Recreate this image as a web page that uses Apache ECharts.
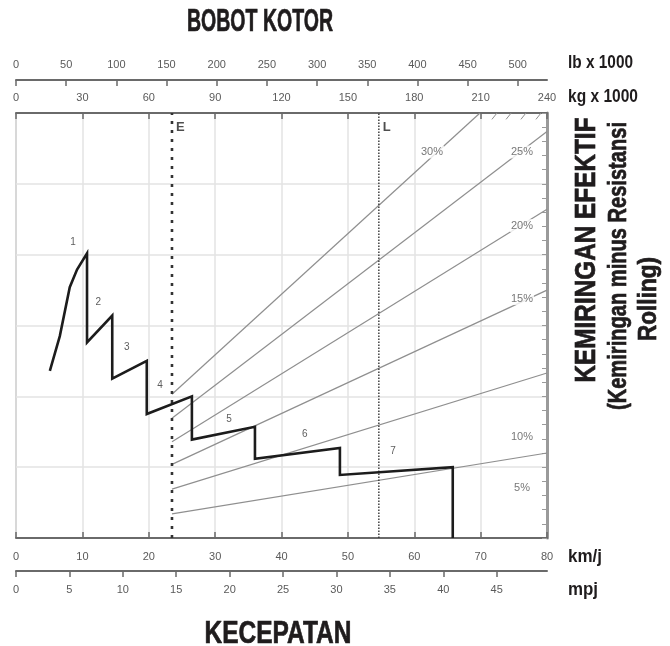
<!DOCTYPE html>
<html>
<head>
<meta charset="utf-8">
<script src="https://cdn.jsdelivr.net/npm/echarts@6/dist/echarts.min.js"></script>
<style>
  html, body { margin: 0; padding: 0; background: #fff; }
  #chart { width: 670px; height: 646px; }
</style>
</head>
<body>
<div id="chart"></div>
<script>
// Tick values of the four scales
const kmhTicks = [0, 10, 20, 30, 40, 50, 60, 70, 80];
const mphTicks = [0, 5, 10, 15, 20, 25, 30, 35, 40, 45];
const kgTicks  = [0, 30, 60, 90, 120, 150, 180, 210, 240];
const lbTicks  = [0, 50, 100, 150, 200, 250, 300, 350, 400, 450, 500];

// Rimpull curve: speed (km/j) against rimpull (kg x 1000)
const gearSpeed = [5.1, 6.6, 8.1, 9.2, 10.7, 10.7, 14.5, 14.5, 19.7, 19.7, 26.5, 26.5, 36.0, 36.0, 48.8, 48.8, 65.8, 65.8];
const gearPull  = [23.6, 28.5, 35.4, 37.9, 40.2, 27.6, 31.4, 22.5, 25.0, 17.5, 20.0, 13.9, 15.7, 11.2, 12.7, 8.9, 10.0, 0];

// Gear numbers and where they sit
const gearNames     = ['1', '2', '3', '4', '5', '6', '7'];
const gearNameSpeed = [8.6, 12.4, 16.7, 21.7, 32.1, 43.5, 56.8];
const gearNamePull  = [41.7, 33.3, 26.9, 21.5, 16.8, 14.7, 12.3];

// Grade lines: gross weight (kg x 1000) against rimpull
const grades           = ['5%', '10%', '15%', '20%', '25%', '30%'];
const emptyWeight      = 70.5;
const loadedWeight     = 164;
const gradeStartPull   = [3.4, 6.9, 10.4, 13.6, 16.9, 20.3];
const gradeEndWeight   = [240, 240, 240, 240, 240, 209.7];
const gradeEndPull     = [12.0, 23.3, 35.0, 46.4, 57.4, 60];
const gradeLabelWeight = [228.7, 228.7, 228.7, 228.7, 228.7, 188.0];
const gradeLabelPull   = [7.1, 14.2, 33.8, 44.1, 54.5, 54.5];

// Short hatch marks along the top edge, right corner
const hatchWeight = [215.1, 221.5, 228.2, 235.0];

const tickFont = "'Liberation Sans Narrow', 'Liberation Sans', Arial, sans-serif";
const boldFont = "'Liberation Sans Narrow', 'Liberation Sans', Arial, sans-serif";
const axisGray = '#6a6a6a';
const gridGray = '#e3e3e3';

// horizontal squeeze factor so a bold heading fills a given width
const measureCtx = document.createElement('canvas').getContext('2d');
function squeeze(text, font, width) {
  measureCtx.font = font;
  return width / measureCtx.measureText(text).width;
}

function heading(text, x, y, size, width, opts) {
  const font = 'bold ' + size + 'px ' + boldFont;
  const o = opts || {};
  return {
    type: 'text',
    x: x, y: y,
    rotation: o.rotation || 0,
    scaleX: squeeze(text, font, width),
    style: {
      text: text,
      font: font,
      fill: '#1f1c1d',
      stroke: '#1f1c1d',
      lineWidth: o.heavy === false ? 0 : 0.7,
      align: o.align || 'center',
      verticalAlign: 'middle'
    }
  };
}

const labelStyle = { fontFamily: tickFont, fontSize: 11, color: '#5a5a5a' };

const chart = echarts.init(document.getElementById('chart'), null, { renderer: 'canvas' });

const series = [];

grades.forEach(function (g, i) {
  series.push({
    type: 'line',
    xAxisIndex: 2,
    yAxisIndex: 0,
    data: [[emptyWeight, gradeStartPull[i]], [gradeEndWeight[i], gradeEndPull[i]]],
    symbol: 'none',
    silent: true,
    lineStyle: { color: '#8f8f8f', width: 1.2 },
    z: 2
  });
});

hatchWeight.forEach(function (w) {
  series.push({
    type: 'line',
    xAxisIndex: 2,
    yAxisIndex: 0,
    data: [[w, 59.1], [w + 2.3, 60]],
    symbol: 'none',
    silent: true,
    lineStyle: { color: '#8f8f8f', width: 1 },
    z: 2
  });
});

// empty (E) and loaded (L) weight markers
series.push({
  type: 'line',
  xAxisIndex: 2,
  yAxisIndex: 0,
  data: [[emptyWeight, 0], [emptyWeight, 60]],
  symbol: 'none',
  silent: true,
  lineStyle: { color: '#333', width: 2.6, type: [3, 6] },
  z: 3
});
series.push({
  type: 'line',
  xAxisIndex: 2,
  yAxisIndex: 0,
  data: [[loadedWeight, 0], [loadedWeight, 60]],
  symbol: 'none',
  silent: true,
  lineStyle: { color: '#333', width: 1.4, type: [1.5, 1.5] },
  z: 3
});
series.push({
  type: 'scatter',
  xAxisIndex: 2,
  yAxisIndex: 0,
  symbolSize: 0,
  silent: true,
  data: [{ name: 'E', value: [emptyWeight, 58] }, { name: 'L', value: [loadedWeight, 58] }],
  label: {
    show: true, position: 'right', distance: 4, formatter: '{b}',
    fontFamily: boldFont, fontWeight: 'bold', fontSize: 13, color: '#222'
  },
  z: 6
});

// grade labels
series.push({
  type: 'scatter',
  xAxisIndex: 2,
  yAxisIndex: 0,
  symbolSize: 0,
  silent: true,
  data: grades.map(function (g, i) {
    return { name: g, value: [gradeLabelWeight[i], gradeLabelPull[i]] };
  }),
  label: {
    show: true, position: 'inside', formatter: '{b}',
    fontFamily: tickFont, fontSize: 11, color: '#555',
    backgroundColor: '#fff', padding: [1, 1]
  },
  z: 4
});

// rimpull curve
series.push({
  type: 'line',
  xAxisIndex: 0,
  yAxisIndex: 0,
  data: gearSpeed.map(function (v, i) { return [v, gearPull[i]]; }),
  symbol: 'none',
  silent: true,
  lineStyle: { color: '#1c1c1c', width: 2.6, join: 'miter' },
  z: 5
});
series.push({
  type: 'scatter',
  xAxisIndex: 0,
  yAxisIndex: 0,
  symbolSize: 0,
  silent: true,
  data: gearNames.map(function (n, i) {
    return { name: n, value: [gearNameSpeed[i], gearNamePull[i]] };
  }),
  label: {
    show: true, position: 'inside', formatter: '{b}',
    fontFamily: tickFont, fontSize: 10, color: '#333'
  },
  z: 6
});

const option = {
  animation: false,
  backgroundColor: '#fff',
  grid: {
    left: 16, right: 123, top: 113, bottom: 108,
    show: true, borderColor: '#6f6f6f', borderWidth: 1, backgroundColor: 'transparent'
  },
  xAxis: [
    {
      type: 'value', position: 'bottom', min: 0, max: 80, interval: 10,
      axisLine: { show: true, onZero: false, lineStyle: { color: axisGray, width: 2 } },
      axisTick: { show: true, inside: true, length: 6, customValues: kmhTicks, lineStyle: { color: axisGray, width: 1.5 } },
      axisLabel: Object.assign({ margin: 13, customValues: kmhTicks }, labelStyle),
      splitLine: { show: true, lineStyle: { color: gridGray, width: 1.5 } }
    },
    {
      type: 'value', position: 'bottom', offset: 33, min: 0, max: 80 / 1.609344,
      axisLine: { show: true, onZero: false, lineStyle: { color: axisGray, width: 2 } },
      axisTick: { show: true, inside: false, length: 6, customValues: mphTicks, lineStyle: { color: axisGray, width: 1.5 } },
      axisLabel: Object.assign({ margin: 13, customValues: mphTicks }, labelStyle),
      splitLine: { show: false }
    },
    {
      type: 'value', position: 'top', min: 0, max: 240, interval: 30,
      axisLine: { show: true, onZero: false, lineStyle: { color: axisGray, width: 2 } },
      axisTick: { show: true, inside: true, length: 6, customValues: kgTicks, lineStyle: { color: axisGray, width: 1.5 } },
      axisLabel: Object.assign({ margin: 10, customValues: kgTicks }, labelStyle),
      splitLine: { show: false }
    },
    {
      type: 'value', position: 'top', offset: 33, min: 0, max: 240 * 2.20462,
      axisLine: { show: true, onZero: false, lineStyle: { color: axisGray, width: 2 } },
      axisTick: { show: true, inside: true, length: 6, customValues: lbTicks, lineStyle: { color: axisGray, width: 1.5 } },
      axisLabel: Object.assign({ margin: 10, customValues: lbTicks }, labelStyle),
      splitLine: { show: false }
    }
  ],
  yAxis: [
    {
      type: 'value', position: 'right', min: 0, max: 60, interval: 10,
      axisLine: { show: true, onZero: false, lineStyle: { color: '#9a9a9a', width: 3 } },
      axisTick: { show: true, inside: true, length: 5, lineStyle: { color: '#9a9a9a' } },
      minorTick: { show: true, splitNumber: 5, length: 5, lineStyle: { color: '#9a9a9a' } },
      axisLabel: { show: false },
      splitLine: { show: true, lineStyle: { color: gridGray, width: 1.5 } }
    }
  ],
  series: series,
  graphic: [
    heading('BOBOT KOTOR', 260, 22, 31, 146),
    heading('KECEPATAN', 278, 634, 31, 147),
    heading('KEMIRINGAN EFEKTIF', 587, 250, 30, 265, { rotation: Math.PI / 2 }),
    heading('(Kemiringan minus Resistansi', 619, 266, 26, 288, { rotation: Math.PI / 2 }),
    heading('Rolling)', 649, 299, 26, 84, { rotation: Math.PI / 2 }),
    heading('lb x 1000', 568, 63, 18, 65, { align: 'left', heavy: false }),
    heading('kg x 1000', 568, 97, 18, 70, { align: 'left', heavy: false }),
    heading('km/j', 568, 557, 18, 34, { align: 'left', heavy: false }),
    heading('mpj', 568, 590, 18, 30, { align: 'left', heavy: false })
  ]
};

chart.setOption(option);
</script>
</body>
</html>
